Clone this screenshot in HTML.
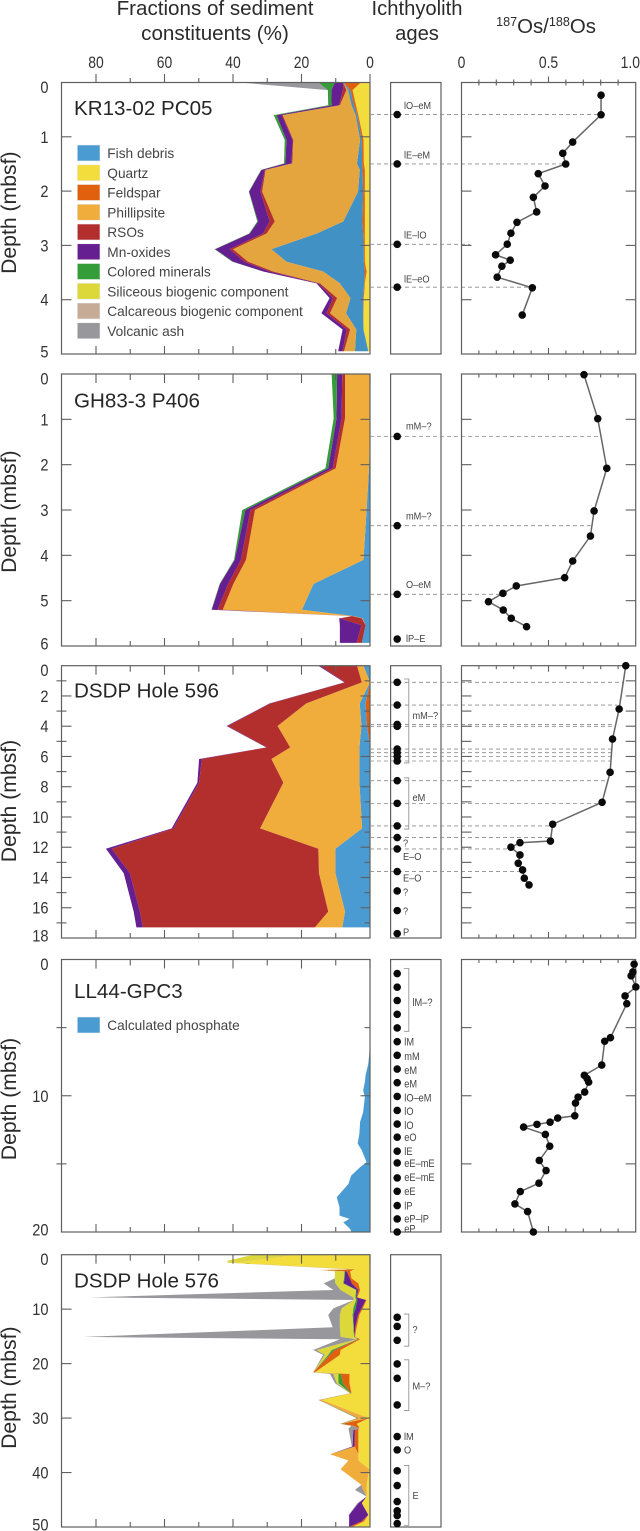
<!DOCTYPE html>
<html lang="en">
<head>
<meta charset="utf-8">
<title>Sediment constituents, ichthyolith ages and osmium isotopes</title>
<style>
html,body{margin:0;padding:0;background:#fff;}
svg{display:block;font-family:"Liberation Sans",Arial,sans-serif;}
</style>
</head>
<body>
<svg id="chart" xmlns="http://www.w3.org/2000/svg" width="640" height="1531" viewBox="0 0 640 1531">
  <rect x="0" y="0" width="640" height="1531" fill="#fff"/>
  <text x="215" y="15" font-size="20.6" text-anchor="middle" fill="#2b2b2b">Fractions of sediment</text>
  <text x="215" y="40" font-size="20.6" text-anchor="middle" fill="#2b2b2b">constituents (%)</text>
  <text x="417" y="15" font-size="20.2" text-anchor="middle" fill="#2b2b2b">Ichthyolith</text>
  <text x="417" y="40" font-size="20.2" text-anchor="middle" fill="#2b2b2b">ages</text>
  <text x="546" y="33" font-size="20.4" text-anchor="middle" fill="#2b2b2b"><tspan font-size="12.6" dy="-7">187</tspan><tspan dy="7">Os/</tspan><tspan font-size="12.6" dy="-7">188</tspan><tspan dy="7">Os</tspan></text>
  <g id="plots"></g>
</svg>
<script>
// ---------- KR13-02 PC05 ----------
const core1Depth = [0,.14,.42,.6,1.06,1.49,1.61,2.01,2.56,2.78,3.07,3.3,3.48,3.7,3.97,4.25,4.55,4.95];
const core1Quartz = [2.7,5.1,4.1,3.4,1.9,1.8,1.5,1.5,1.5,1.5,1.5,1.5,1,1.5,1.8,1.9,1.9,.5];
const core1Feldspar = [5.1,.6,.6,.3,.5,.5,.7,.5,.7,.5,.3,.3,.6,.2,.2,.1,0,0];
const core1Fish = [0,.7,.7,.5,.5,1.5,.8,1.5,5.6,13.6,27,22.6,12.1,7.1,3.7,5,2.1,3.9];
const core1Phillipsite = [0,.5,3.4,21.3,19.5,18.9,27.5,28,20,14.6,11.2,11.2,14.6,5.8,3.9,4.7,1.8,3.2];
const core1Rso = [0,1,.2,.3,.2,.2,.2,.5,1.5,1,1,1,1,.5,1.2,1,1,.4];
const core1Mn = [2.4,3.4,2.2,1.5,1.8,1.8,1,3.3,3.4,3.9,4.2,3.4,1.9,.5,1,1.5,1.2,1.3];
const core1Colored = [4.9,1,1,.8,.5,.4,.1,.1,.2,.2,.2,.2,0,0,0,0,0,0];
const core1Ash = [22.9,0,0,0,0,0,0,0,0,0,0,0,0,0,0,0,0,0];
const core1AgeDepth = [.59,1.5,2.98,3.77];
const core1TieOs = [.80,.59,.05,.40];
const core1AgeLabels = ['lO–eM','lE–eM','lE–lO','lE–eO'];
const core1AgeLabelDepth = [.42,1.33,2.81,3.62];
const core1OsValue = [.802,.802,.639,.582,.599,.441,.48,.413,.432,.319,.284,.263,.196,.28,.232,.205,.407,.349];
const core1OsDepth = [.233,.594,1.097,1.305,1.501,1.679,1.906,2.114,2.384,2.574,2.776,2.978,3.174,3.272,3.382,3.585,3.781,4.283];

// ---------- GH83-3 P406 ----------
const core2Depth = [0,.98,2.08,3,4.1,4.63,5.2,5.34,5.39,5.54,5.93];
const core2Feldspar = [0,0,0,.2,0,0,0,0,0,0,0];
const core2Fish = [0,0,.3,.8,1.9,16.5,19.9,4.7,2.2,1.3,2.4];
const core2Phillipsite = [7.3,7.3,9.7,32.6,34.3,23.4,23.1,.4,.2,0,0];
const core2Rso = [.8,1,.9,1.3,1.5,1.5,1.5,.2,6.3,1.2,1.5];
const core2Mn = [1.5,1.5,1.3,1.5,1.8,2.4,1.7,.1,.3,6.3,4.9];
const core2Colored = [1.6,.8,.8,.9,.2,.1,.1,0,0,0,0];
const core2AgeDepth = [1.376,3.346,4.86,5.846];
const core2TieOs = [.797,.743,.22];
const core2AgeLabels = ['mM–?','mM–?','O–eM','lP–E'];
const core2AgeLabelDepth = [1.15,3.13,4.64,5.83];
const core2OsValue = [.704,.783,.835,.762,.741,.639,.593,.315,.238,.155,.24,.286,.374];
const core2OsDepth = [.015,.985,2.08,3.02,3.574,4.125,4.493,4.676,4.838,5.022,5.206,5.39,5.574];

// ---------- DSDP Hole 596 ----------
const core3Depth = [0,1.1,2.49,3.99,5.4,6.17,7.73,10.75,12.1,13.72,16.26,17.3];
const core3Feldspar = [0,0,1.3,.9,0,0,0,0,0,0,0,0];
const core3Fish = [1.9,0,1.7,1.6,3.1,3.1,3.1,2.3,10.1,10.1,7.3,8.1];
const core3Phillipsite = [1.9,2.4,15.6,24.5,20.2,25.7,22.2,29.8,5,4.8,4.9,8];
const core3Rso = [10.8,4.9,10.4,14.6,6.8,20.3,24.6,25.3,60.3,55.2,55,50.2];
const core3Mn = [.5,.2,.3,.3,.2,.8,.5,.5,1.7,1.8,1.8,1.9];
const core3AgeDepth = [1.1,2.6,3.88,4.01,5.51,5.75,6.01,6.3,7.6,9.1,10.59,11.36,12.11,13.61,14.89,16.19,17.71];
const core3TieOs = [.93,.896,.864,.864,.86,.86,.86,.86,.835,.797,.509,.5,.298,.355];
const core3AgeLabels = ['mM–?','eM','?','E–O','E–O','?','?','P'];
const core3AgeLabelDepth = [3.3,8.72,11.7,12.62,14.03,14.94,16.2,17.6];
const core3AgeLabelBracketed = [1,1,0,0,0,0,0,0];
const core3BracketTop = [.88,7.42];
const core3BracketBottom = [6.43,10.8];
const core3OsValue = [.944,.906,.868,.854,.808,.524,.511,.336,.284,.336,.326,.351,.361,.388];
const core3OsDepth = [0,2.863,4.846,7.05,9.03,10.48,11.59,11.7,12,12.51,13.06,13.5,14.05,14.49];

// ---------- LL44-GPC3 ----------
const core4Depth = [6.62,7.65,8.5,9,9.6,10.1,11.2,11.94,12.8,13.5,14,14.88,15.25,15.86,16.47,17.45,18.19,18.8,19.04,19.29,19.78,20];
const core4Phosphate = [.1,.5,1.3,1.5,2,1.5,2,2.9,3.1,3.6,2.4,1,2.9,5.5,6.3,9.7,8.9,8.9,6,7.8,5.8,5.4];
const core4AgeDepth = [1.03,2.03,3.01,4.02,5.02,6.03,7.03,8.04,9.04,10.05,11.08,12.08,13.04,14.07,14.93,16.03,17.01,18.06,19.04,20];
const core4AgeLabels = ['lM–?','lM','mM','eM','eM','lO–eM','lO','lO','eO','lE','eE–mE','eE–mE','eE','lP','eP–lP','eP'];
const core4AgeLabelDepth = [3.14,6.05,7.13,8.14,9.14,10.15,11.15,12.16,13.04,14.07,14.95,15.98,17.01,18.09,19.04,19.78];
const core4AgeLabelBracketed = [1,0,0,0,0,0,0,0,0,0,0,0,0,0,0,0];
const core4BracketTop = [.66];
const core4BracketBottom = [5.27];
const core4OsValue = [.992,.985,.975,1.002,.94,.95,.856,.823,.806,.706,.722,.731,.708,.67,.655,.651,.553,.509,.434,.357,.482,.507,.447,.486,.445,.338,.307,.38,.413];
const core4OsDepth = [.34,.91,1.2,2.01,2.67,3.24,5.74,6,7.75,8.5,8.75,9,9.73,10.1,10.54,11.47,11.64,11.94,12.1,12.3,12.84,13.7,14.75,15.49,16.42,17.03,17.94,18.5,20];

// ---------- DSDP Hole 576 ----------
const core5Depth = [0,1.1,1.47,2.69,2.81,3.06,4.34,5.26,6.48,7.83,8.32,9.85,11.07,13.33,15.1,15.53,17.5,18.4,21.6,21.9,23.6,25.44,26.67,30.03,31.07,31.44,31.93,32.17,35.23,36.64,37.8,39.4,42.26,43.18,44.4,45.63,47.77,48.99,49.9];
const core5Quartz = [22.4,36,40.4,4.4,5.1,5.8,5.4,3.4,2.9,3.7,1,2.1,3.1,3.9,4.4,2.9,8.6,8.8,16.1,6,6,5.4,14.4,.5,3.9,3.4,3.1,3.4,3.4,3.4,3.4,.2,1,1,1,2.4,.5,1.8,4.9];
const core5Feldspar = [.2,.2,.1,.3,9.5,1,.5,1.9,.5,.2,.2,.4,.4,.4,.1,.5,1.8,2.9,.5,2.5,1.9,.2,.4,.2,4.4,1.5,0,1,1.1,0,0,0,0,0,0,0,0,.7,1];
const core5Phillipsite = [0,0,0,0,0,0,0,0,0,0,0,0,0,0,0,0,0,0,0,0,0,0,0,2.7,0,0,0,0,0,8.3,2.9,8.4,1.5,1,0,0,0,0,0];
const core5Mn = [.1,.1,.1,.2,0,.5,1.5,2.4,.5,.2,2.5,1.7,1.4,.4,.1,.1,.1,.1,0,0,0,0,0,.2,.1,.1,0,.5,.6,0,0,0,0,0,0,1,5.6,3.6,.2];
const core5Colored = [.2,.2,.1,.2,0,.2,.2,.2,.2,.2,.4,.7,.2,.2,.1,.2,.7,.4,0,.7,1.3,.1,.1,.2,.2,.1,0,0,0,0,0,0,0,0,0,0,0,0,0];
const core5Siliceous = [11.2,5.1,.9,.8,0,2.7,2.7,2.2,4.5,.6,.6,3.4,3.7,3.9,3.9,.2,4.4,1,0,1.5,.5,.1,.1,.1,.1,.1,0,0,0,0,0,0,0,0,0,0,0,0,0];
const core5Ash = [0,0,0,0,0,0,0,3.4,2.1,76.9,0,2.4,3.4,2.1,75.1,4.9,1,.5,0,1,.5,.1,.1,0,.1,.2,3.2,1.3,.2,0,0,0,0,2.4,0,.3,.1,0,0];
const core5AgeDepth = [11.5,13.17,15.72,20.06,22.69,27.58,33.39,35.84,39.69,42.39,45.33,47.03,47.89,49.36];
const core5AgeLabels = ['?','M–?','lM','O','E'];
const core5AgeLabelDepth = [13.7,24.1,33.4,35.84,44.2];
const core5AgeLabelBracketed = [1,1,0,0,1];
const core5BracketTop = [10.9,19.3,38.7];
const core5BracketBottom = [16.8,28.6,49.7];

// ---------- Axis tick labels and legends ----------
const percentTicks = [80,60,40,20,0];
const percentMinorTicks = [90,70,50,30,10];
const osMajorTicks = [0,.5,1];
const osMinorTicks = [.1,.2,.3,.4,.6,.7,.8,.9];
const osTickLabels = ['0','0.5','1.0'];
const legendNames = ['Fish debris','Quartz','Feldspar','Phillipsite','RSOs','Mn-oxides','Colored minerals','Siliceous biogenic component','Calcareous biogenic component','Volcanic ash'];
const legendKeys = ['fish','quartz','feldspar','phillipsite','rso','mn','colored','siliceous','calcareous','ash'];

const palette = {fish:'#4a9bd1',quartz:'#f3dd3d',feldspar:'#e1600e',phillipsite:'#f0ad3c',rso:'#b32f2e',mn:'#651f91',colored:'#349c39',siliceous:'#dcd83a',calcareous:'#c6ab96',ash:'#98979b'};

const NS = 'http://www.w3.org/2000/svg';
const root = document.getElementById('plots');
const AXIS = '#5f5f5f';
const PCT_LEFT = 61.5, PCT_RIGHT = 370, PCT_SCALE = 3.425;
const OS_LEFT = 461.5, OS_RIGHT = 635.7, OS_SCALE = 174;
const AGE_LEFT = 390.6, AGE_RIGHT = 441;

function xPct(v){ return PCT_RIGHT - v * PCT_SCALE; }
function xOs(v){ return OS_LEFT + v * OS_SCALE; }
function yDepth(p, d){ return p.top + (d / p.max) * (p.bottom - p.top); }

function make(tag, attrs){
  const el = document.createElementNS(NS, tag);
  for (const k in attrs) el.setAttribute(k, attrs[k]);
  root.appendChild(el);
  return el;
}
function seg(x1, y1, x2, y2, name, color, width){
  const el = make('line', {x1:x1, y1:y1, x2:x2, y2:y2, stroke:color || AXIS, 'stroke-width':width || 1.1});
  
  
  return el;
}
function label(x, y, text, size, sx, anchor, color, name){
  const el = make('text', {transform:'translate(' + x + ',' + y + ') scale(' + sx + ',1)', 'font-size':size, 'text-anchor':anchor, fill:color});
  el.textContent = text;
  
  
  return el;
}
function frame(x1, y1, x2, y2, name){
  const el = make('rect', {x:x1, y:y1, width:x2 - x1, height:y2 - y1, fill:'none', stroke:AXIS, 'stroke-width':1.2});
  
  
  return el;
}

function drawStack(p){
  const cum = p.depth.map(function(){ return 0; });
  p.stack.forEach(function(s){
    const values = s.values;
    if (!values.some(function(v){ return v > 0; })) return;
    const right = [], left = [];
    for (let i = 0; i < p.depth.length; i++){
      const y = yDepth(p, p.depth[i]).toFixed(2);
      right.push(xPct(cum[i]).toFixed(2) + ',' + y);
      cum[i] += values[i];
      left.push(xPct(cum[i]).toFixed(2) + ',' + y);
    }
    const el = make('polygon', {points:right.concat(left.reverse()).join(' '), fill:s.color || palette[s.key], stroke:'none'});
    
    
  });
}

function drawPercentAxes(p){
  frame(PCT_LEFT, p.top, PCT_RIGHT, p.bottom, 'fraction-plot-frame-' + p.id);
  percentTicks.forEach(function(v){
    const x = xPct(v);
    if (p.first) seg(x, p.top - 8.5, x, p.top, 'top-tick-major');
    else seg(x, p.top, x, p.top + 9, 'top-tick-major');
    if (v > 0) seg(x, p.bottom - 8, x, p.bottom, 'bottom-tick-major');
    if (p.first) label(x, 68, String(v), 17, .82, 'middle', '#333', 'x-tick-label-' + v);
  });
  percentMinorTicks.forEach(function(v){
    const x = xPct(v);
    if (v === 90) return;
    if (p.first) seg(x, p.top - 4.5, x, p.top, 'top-tick-minor');
    else seg(x, p.top, x, p.top + 6, 'top-tick-minor');
    seg(x, p.bottom - 5, x, p.bottom, 'bottom-tick-minor');
  });
  for (let d = 0; d <= p.max + 1e-6; d += p.step){
    const y = yDepth(p, d);
    const major = Math.abs((d / p.labelStep) - Math.round(d / p.labelStep)) < 1e-6;
    if (d > 0 && d < p.max){
      if (major){
        seg(PCT_LEFT, y, PCT_LEFT + 10, y, 'depth-tick-left');
        seg(PCT_RIGHT - 9.5, y, PCT_RIGHT, y, 'depth-tick-right');
      } else {
        seg(PCT_LEFT - 5, y, PCT_LEFT + 5, y, 'depth-tick-left-minor');
        seg(PCT_RIGHT - 5.5, y, PCT_RIGHT, y, 'depth-tick-right-minor');
      }
    }
    if (major){
      let ly = y + 6;
      if (d === 0) ly += 4.5;
      if (d === p.max) ly -= 2.5;
      label(48.5, ly, String(Math.round(d)), 17, .86, 'end', '#333', 'depth-tick-label-' + Math.round(d));
    }
  }
  const mid = label(16, p.titleY, 'Depth (mbsf)', 21.2, 1, 'middle', '#2b2b2b', 'y-axis-title-' + p.id);
  mid.setAttribute('transform', 'translate(16,' + p.titleY + ') rotate(-90)');
  label(74, p.nameY, p.name, 20.6, 1, 'start', '#262626', 'core-name-' + p.id);
}

function drawAges(p){
  frame(AGE_LEFT, p.top, AGE_RIGHT, p.bottom, 'ichthyolith-frame-' + p.id);
  (p.ties || []).forEach(function(v, i){
    const y = yDepth(p, p.ages[i]);
    const el = seg(PCT_RIGHT, y, xOs(v), y, 'age-tie-line', '#8c8c8c', .85);
    el.setAttribute('stroke-dasharray', '4 3');
  });
  (p.bTop || []).forEach(function(d, i){
    const y1 = yDepth(p, d), y2 = yDepth(p, p.bBottom[i]);
    const el = make('polyline', {points:'404,' + y1 + ' 408.8,' + y1 + ' 408.8,' + y2 + ' 404,' + y2, fill:'none', stroke:'#8f8f8f', 'stroke-width':.85});
    
    
  });
  p.ages.forEach(function(d){
    const el = make('circle', {cx:397.2, cy:yDepth(p, d), r:3.8, fill:'#0a0a0a'});
    
    
  });
  p.labels.forEach(function(t, i){
    const br = p.labelBracketed && p.labelBracketed[i];
    const size = p.id === 'll44' ? 11 : 9.8;
    label(br ? 412.5 : p.labelX, yDepth(p, p.labelDepth[i]) + 3.6, t, size, p.id === 'll44' ? .84 : .94, 'start', '#444', 'age-label');
  });
}

function drawOs(p){
  frame(OS_LEFT, p.top, OS_RIGHT, p.bottom, 'osmium-frame-' + p.id);
  osMajorTicks.forEach(function(v, i){
    const x = xOs(v);
    if (v > 0 && v < 1){
      if (p.first) seg(x, p.top - 6, x, p.top, 'os-top-tick-major');
      else seg(x, p.top, x, p.top + 6, 'os-top-tick-major');
      seg(x, p.bottom - 6, x, p.bottom, 'os-bottom-tick-major');
    }
    if (p.first){
      const anchor = i === 2 ? 'end' : 'middle';
      label(i === 2 ? 640 : x, 68, osTickLabels[i], 17, .82, anchor, '#333', 'os-tick-label-' + osTickLabels[i]);
    }
  });
  osMinorTicks.forEach(function(v){
    const x = xOs(v);
    if (p.first) seg(x, p.top - 3, x, p.top + 3, 'os-top-tick-minor');
    else seg(x, p.top, x, p.top + 3.5, 'os-top-tick-minor');
    seg(x, p.bottom - 3.5, x, p.bottom, 'os-bottom-tick-minor');
  });
  for (let d = p.step; d < p.max - 1e-6; d += p.step){
    const y = yDepth(p, d);
    seg(OS_LEFT, y, OS_LEFT + 10, y, 'os-depth-tick-left');
    seg(OS_RIGHT - 10, y, OS_RIGHT, y, 'os-depth-tick-right');
  }
  const pts = p.osValue.map(function(v, i){
    return xOs(v).toFixed(2) + ',' + yDepth(p, p.osDepth[i]).toFixed(2);
  }).join(' ');
  const path = make('polyline', {points:pts, fill:'none', stroke:'#666', 'stroke-width':1.5});
  
  
  p.osValue.forEach(function(v, i){
    const el = make('circle', {cx:xOs(v), cy:yDepth(p, p.osDepth[i]), r:3.8, fill:'#0a0a0a'});
    
    
  });
}

function legendRow(x, y, color, text){
  const box = make('rect', {x:x, y:y, width:22.7, height:16, fill:color, stroke:'#e9eef2', 'stroke-width':.6});
  
  
  label(x + 30, y + 13, text, 13.7, 1, 'start', '#444', 'legend-entry');
}

const panels = [
  {id:'kr13', first:true, name:'KR13-02 PC05', nameY:115, titleY:212.7, top:82.5, bottom:354, max:5, step:1, labelStep:1, depth:core1Depth,
   stack:[{key:'quartz',values:core1Quartz},{key:'feldspar',values:core1Feldspar},{key:'fish',values:core1Fish,color:'#4291c5'},{key:'phillipsite',values:core1Phillipsite,color:'#e4a53f'},{key:'rso',values:core1Rso},{key:'mn',values:core1Mn},{key:'colored',values:core1Colored},{key:'ash',values:core1Ash}],
   ages:core1AgeDepth, ties:core1TieOs, labels:core1AgeLabels, labelDepth:core1AgeLabelDepth, labelX:404, osValue:core1OsValue, osDepth:core1OsDepth},
  {id:'gh83', name:'GH83-3 P406', nameY:407.3, titleY:511.7, top:374, bottom:646, max:6, step:1, labelStep:1, depth:core2Depth,
   stack:[{key:'feldspar',values:core2Feldspar},{key:'fish',values:core2Fish},{key:'phillipsite',values:core2Phillipsite},{key:'rso',values:core2Rso},{key:'mn',values:core2Mn},{key:'colored',values:core2Colored}],
   ages:core2AgeDepth, ties:core2TieOs, labels:core2AgeLabels, labelDepth:core2AgeLabelDepth, labelX:406, osValue:core2OsValue, osDepth:core2OsDepth},
  {id:'dsdp596', name:'DSDP Hole 596', nameY:697.3, titleY:801, top:665.7, bottom:938, max:18, step:1, labelStep:2, depth:core3Depth,
   stack:[{key:'feldspar',values:core3Feldspar},{key:'fish',values:core3Fish},{key:'phillipsite',values:core3Phillipsite},{key:'rso',values:core3Rso},{key:'mn',values:core3Mn}],
   ages:core3AgeDepth, ties:core3TieOs, labels:core3AgeLabels, labelDepth:core3AgeLabelDepth, labelBracketed:core3AgeLabelBracketed, bTop:core3BracketTop, bBottom:core3BracketBottom, labelX:403, osValue:core3OsValue, osDepth:core3OsDepth},
  {id:'ll44', name:'LL44-GPC3', nameY:998, titleY:1099, top:959.5, bottom:1232, max:20, step:5, labelStep:10, depth:core4Depth,
   stack:[{key:'fish',values:core4Phosphate}],
   ages:core4AgeDepth, labels:core4AgeLabels, labelDepth:core4AgeLabelDepth, labelBracketed:core4AgeLabelBracketed, bTop:core4BracketTop, bBottom:core4BracketBottom, labelX:404.3, osValue:core4OsValue, osDepth:core4OsDepth},
  {id:'dsdp576', name:'DSDP Hole 576', nameY:1287.3, titleY:1387.7, top:1254.7, bottom:1527, max:50, step:10, labelStep:10, depth:core5Depth,
   stack:[{key:'quartz',values:core5Quartz},{key:'feldspar',values:core5Feldspar},{key:'phillipsite',values:core5Phillipsite},{key:'mn',values:core5Mn},{key:'colored',values:core5Colored},{key:'siliceous',values:core5Siliceous},{key:'ash',values:core5Ash}],
   ages:core5AgeDepth, labels:core5AgeLabels, labelDepth:core5AgeLabelDepth, labelBracketed:core5AgeLabelBracketed, bTop:core5BracketTop, bBottom:core5BracketBottom, labelX:404, noOs:true}
];

panels.forEach(function(p){
  drawStack(p);
  drawPercentAxes(p);
  drawAges(p);
  if (!p.noOs) drawOs(p);
});

legendNames.forEach(function(n, i){
  legendRow(77.3, 145 + i * 19.75, palette[legendKeys[i]], n);
});
legendRow(77.3, 1017, palette.fish, 'Calculated phosphate');
</script>
</body>
</html>
